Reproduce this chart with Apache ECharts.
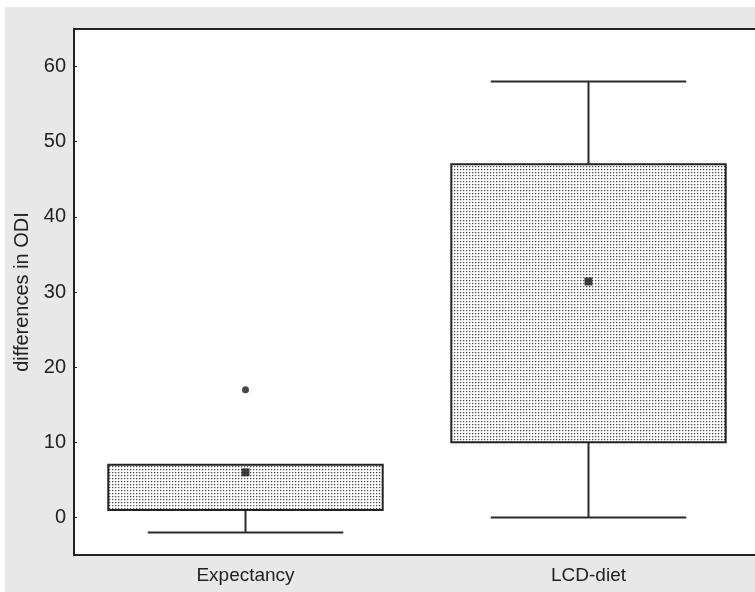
<!DOCTYPE html>
<html>
<head>
<meta charset="utf-8">
<script src="https://cdn.jsdelivr.net/npm/echarts@6/dist/echarts.min.js"></script>
<style>
  html, body { margin: 0; padding: 0; background: #ffffff; overflow: hidden; }
  #chart { position: absolute; left: 0; top: 0; width: 755px; height: 592px; }
</style>
</head>
<body>
<div id="chart"></div>
<script>
const categories = ['Expectancy', 'LCD-diet'];
const whiskerLow = [-2, 0];
const boxLow = [1, 10];
const boxHigh = [7, 47];
const whiskerHigh = [7, 58];
const centerMarker = [6, 31.4];
const outlierCats = [0];
const outlierVals = [17];

// dotted fill pattern
const pc = document.createElement('canvas');
pc.width = 3; pc.height = 3;
const pctx = pc.getContext('2d');
pctx.fillStyle = '#ffffff'; pctx.fillRect(0, 0, 3, 3);
pctx.fillStyle = '#4a4a4a'; pctx.fillRect(1, 1, 1, 1);
pctx.fillStyle = '#c4c4c4'; pctx.fillRect(2, 1, 1, 1);
pctx.fillStyle = '#d2d2d2'; pctx.fillRect(1, 2, 1, 1);
const dotPattern = { image: pc, repeat: 'repeat' };

const boxData = categories.map((c, i) => [i, whiskerLow[i], boxLow[i], boxHigh[i], whiskerHigh[i]]);
const markerData = categories.map((c, i) => [i, centerMarker[i]]);
const outlierData = outlierCats.map((c, i) => [c, outlierVals[i]]);

const chart = echarts.init(document.getElementById('chart'), null, { renderer: 'canvas' });

function renderBox(params, api) {
  const xi = api.value(0);
  const pWl = api.coord([xi, api.value(1)]);
  const pQ1 = api.coord([xi, api.value(2)]);
  const pQ3 = api.coord([xi, api.value(3)]);
  const pWh = api.coord([xi, api.value(4)]);
  const band = api.size([1, 0])[0];
  const boxW = band * 0.8;
  const capW = band * 0.57;
  const cx = pQ1[0];
  const lineStyle = { stroke: '#2a2a2a', lineWidth: 2 };
  const children = [];
  children.push({ type: 'line', shape: { x1: cx, y1: pQ1[1], x2: cx, y2: pWl[1] }, style: lineStyle });
  children.push({ type: 'line', shape: { x1: cx - capW / 2, y1: pWl[1], x2: cx + capW / 2, y2: pWl[1] }, style: lineStyle });
  if (pWh[1] < pQ3[1] - 0.5) {
    children.push({ type: 'line', shape: { x1: cx, y1: pQ3[1], x2: cx, y2: pWh[1] }, style: lineStyle });
    children.push({ type: 'line', shape: { x1: cx - capW / 2, y1: pWh[1], x2: cx + capW / 2, y2: pWh[1] }, style: lineStyle });
  }
  children.push({
    type: 'rect',
    shape: { x: cx - boxW / 2, y: pQ3[1], width: boxW, height: pQ1[1] - pQ3[1] },
    style: { fill: dotPattern, stroke: '#222222', lineWidth: 2 }
  });
  return { type: 'group', children: children };
}

const labelFont = 'Liberation Sans, Arial, sans-serif';

chart.setOption({
  animation: false,
  backgroundColor: '#ffffff',
  graphic: [
    { type: 'rect', left: 5, top: 7, z: -100, silent: true,
      shape: { width: 750, height: 585 }, style: { fill: '#e8e8e8' } },
    { type: 'rect', left: 74, top: 29, z: -90, silent: true,
      shape: { width: 700, height: 526 }, style: { fill: '#ffffff' } }
  ],
  grid: {
    left: 74, top: 29, width: 686, height: 526,
    outerBoundsMode: 'none',
    containLabel: false,
    show: false
  },
  xAxis: [
    {
      type: 'category',
      data: categories,
      axisLine: { onZero: false, lineStyle: { color: '#222222', width: 2 } },
      axisTick: { show: false },
      axisLabel: { color: '#222222', fontSize: 19, fontFamily: labelFont, margin: 11 },
      splitLine: { show: false }
    },
    {
      type: 'category',
      position: 'top',
      data: categories,
      axisLine: { onZero: false, lineStyle: { color: '#222222', width: 2 } },
      axisTick: { show: false },
      axisLabel: { show: false },
      splitLine: { show: false }
    }
  ],
  yAxis: {
    type: 'value',
    min: -5, max: 65, splitNumber: 7,
    name: 'differences in ODI',
    nameLocation: 'middle',
    nameGap: 40,
    nameTextStyle: { color: '#222222', fontSize: 20, fontFamily: labelFont },
    axisLine: { show: true, onZero: false, lineStyle: { color: '#222222', width: 2 } },
    axisTick: { show: true, inside: true, length: 3, lineStyle: { color: '#222222', width: 1 } },
    axisLabel: {
      color: '#222222', fontSize: 20, fontFamily: labelFont, margin: 8,
      showMinLabel: false, showMaxLabel: false,
      formatter: v => (v % 10 === 0 ? String(v) : '')
    },
    splitLine: { show: false }
  },
  series: [
    {
      type: 'custom',
      renderItem: renderBox,
      data: boxData,
      encode: { x: 0, y: [1, 2, 3, 4] },
      z: 2
    },
    {
      type: 'scatter',
      data: markerData,
      symbol: 'rect',
      symbolSize: 8,
      itemStyle: { color: '#111111' },
      z: 5
    },
    {
      type: 'scatter',
      data: outlierData,
      symbol: 'circle',
      symbolSize: 7,
      itemStyle: { color: '#1a1a1a' },
      z: 5
    }
  ]
});
</script>
</body>
</html>
